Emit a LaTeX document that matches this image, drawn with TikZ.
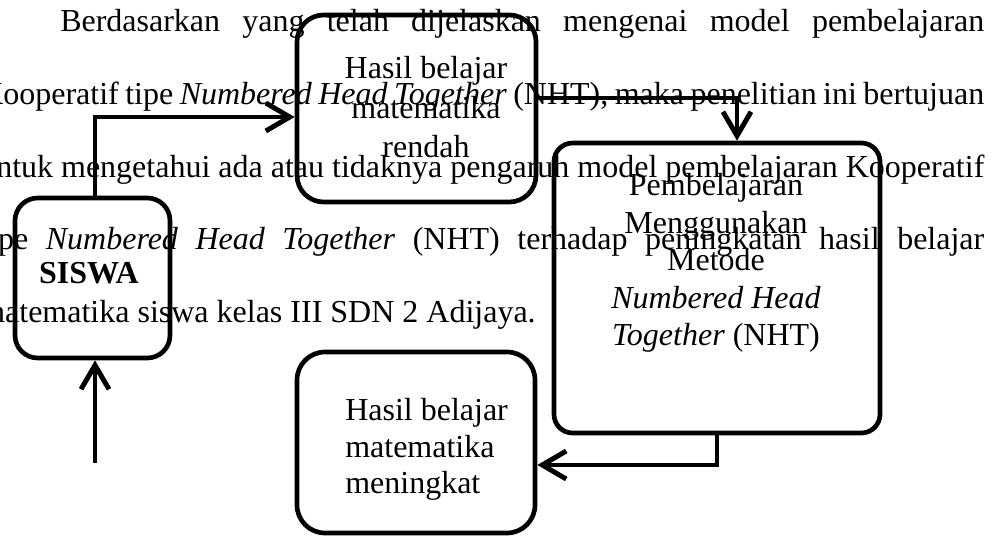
\documentclass[tikz,border=0pt]{standalone}
\usepackage{fontspec}
\setmainfont{Liberation Serif}
\usetikzlibrary{arrows.meta, positioning, calc}

\begin{document}
\begin{tikzpicture}[x=0.75pt, y=-0.75pt,
    font=\fontsize{24pt}{28.1pt}\selectfont,
    box/.style={draw, line width=3.5pt, inner sep=0pt},
    lbl/.style={inner sep=0pt, align=center, anchor=north},
    para/.style={inner sep=0pt, anchor=base west},
    arr/.style={line width=3.7pt, -{Straight Barb[length=18pt, width=21pt]}}]
    \def\Lw{753pt}   % full justified line
    \def\Lp{72.8}    % line pitch (px)

    \useasboundingbox (0,0) rectangle (995,539);

    % ---------- paragraph behind the chart ----------
    \node[para] (l1) at (60,31.5)
      {\makebox[693pt][s]{Berdasarkan yang telah dijelaskan mengenai model pembelajaran}};
    \node[para] (l2) at (-20,31.5+\Lp)
      {\makebox[\Lw][s]{Kooperatif tipe \textit{Numbered Head Together} (NHT), maka penelitian ini bertujuan}};
    \node[para] (l3) at (-20,31.5+2*\Lp)
      {\makebox[\Lw][s]{untuk mengetahui ada atau tidaknya pengaruh model pembelajaran Kooperatif}};
    \node[para] (l4) at (-20,31.5+3*\Lp)
      {\makebox[\Lw][s]{tipe \textit{Numbered Head Together} (NHT) terhadap peningkatan hasil belajar}};
    \node[para] (l5) at (-20,31.5+4*\Lp)
      {matematika siswa kelas III SDN 2 Adijaya.};

    % ---------- boxes ----------
    \node[box, rounded corners=17pt, minimum width=116.25pt, minimum height=120pt]
      (siswa) at (92.5,278) {};
    \node[box, rounded corners=20pt, minimum width=179.25pt, minimum height=140.25pt]
      (rendah) at (416.5,108.5) {};
    \node[box, rounded corners=14pt, minimum width=244.5pt, minimum height=217.5pt]
      (metode) at (717,288) {};
    \node[box, rounded corners=21pt, minimum width=178.5pt, minimum height=135.75pt]
      (meningkat) at (416,442.5) {};

    % ---------- box texts ----------
    \node[lbl] (siswa-t) at (89,261.6) {\bfseries SISWA};
    \node[lbl, font=\fontsize{24pt}{29.6pt}\selectfont] (rendah-t) at (426,56.3)
      {Hasil belajar\\matematika\\rendah};
    \node[lbl] (metode-t) at (716,173.3)
      {Pembelajaran\\Menggunakan\\Metode\\\textit{Numbered Head}\\\textit{Together} (NHT)};
    \node[lbl, align=left, anchor=north west, font=\fontsize{24pt}{27.4pt}\selectfont]
      (meningkat-t) at (345,398.3) {Hasil belajar\\matematika\\meningkat};

    % ---------- connectors ----------
    \coordinate (inA) at (95,463);
    \coordinate (kneeA) at (95,117);
    \coordinate (kneeB) at (737,98);
    \coordinate (kneeC) at (717,465);
    \draw[arr] (inA) -- (siswa.south -| inA);
    \draw[arr] (siswa.north -| kneeA) -- (kneeA) -- (rendah.west |- kneeA);
    \draw[arr] (rendah.east |- kneeB) -- (kneeB) -- (metode.north -| kneeB);
    \draw[arr] (metode.south -| kneeC) -- (kneeC) -- (meningkat.east |- kneeC);

\end{tikzpicture}
\end{document}
